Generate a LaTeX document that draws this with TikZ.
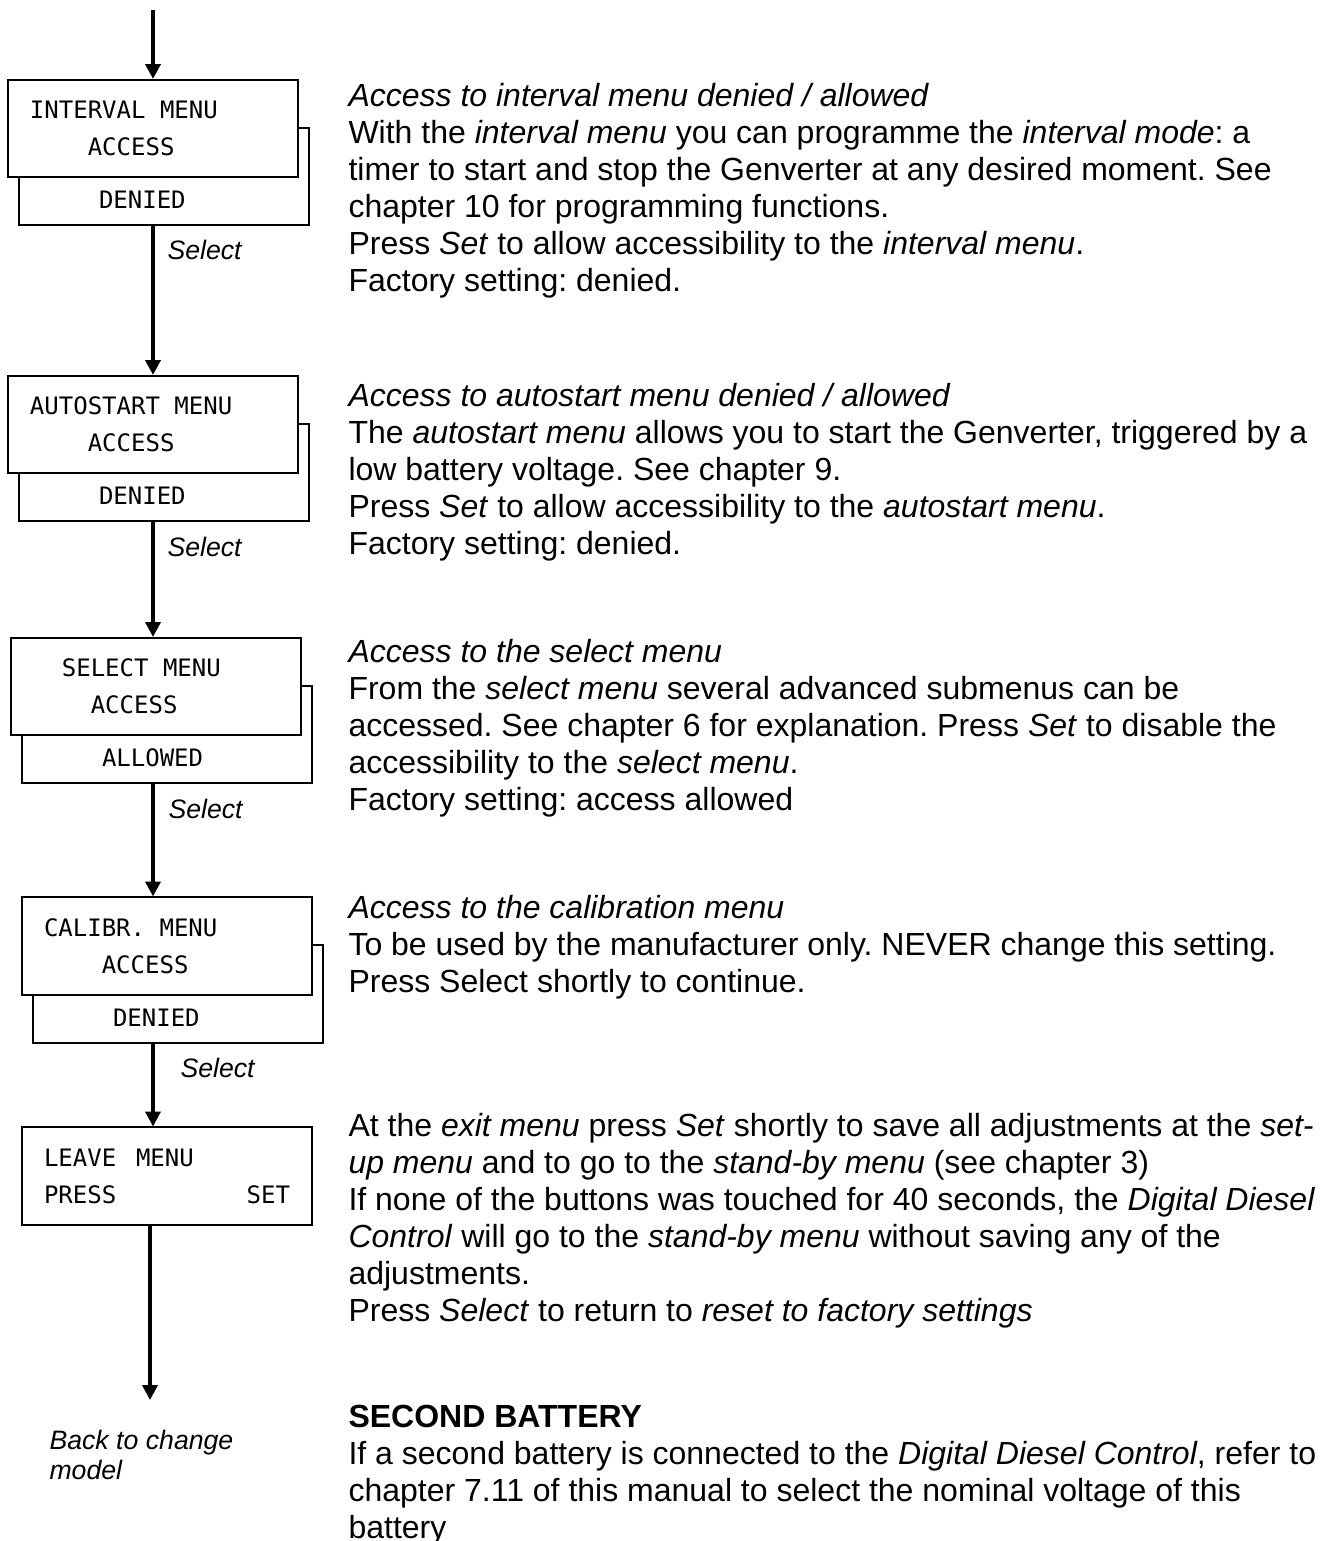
\documentclass[tikz,border=0pt]{standalone}
\usepackage{fontspec}
\setmainfont{Liberation Sans}
\newfontfamily\lcdfont{DejaVu Sans Mono}
\usetikzlibrary{arrows.meta, backgrounds}
\frenchspacing

\begin{document}
\begin{tikzpicture}[x=0.375pt, y=-0.375pt, every node/.style={inner sep=0pt},
		front/.style={draw, fill=white, line width=0.75pt, minimum width=108.75pt, minimum height=36.4pt, inner xsep=8.25pt, text width=92.25pt, align=left, font=\fontsize{9}{13.9}\lcdfont},
		back/.style={draw, line width=0.75pt, minimum width=108.75pt, minimum height=36.4pt},
		status/.style={anchor=west, font=\fontsize{9}{13.9}\lcdfont},
		flow/.style={line width=1.5pt, -{Triangle[width=5.6pt, length=5.6pt]}},
		key/.style={anchor=west, align=left, font=\fontsize{10}{11.25}\selectfont\itshape},
		info/.style={anchor=north west, align=left, font=\fontsize{12}{13.875}\selectfont}]
		\useasboundingbox (0,0) rectangle (1320,1541);
		
		% display boxes
		\node[front] (f1) at (153,128.5) {INTERVAL\phantom{X}MENU\\\phantom{XXXX}ACCESS};
		\node[front] (f2) at (153,424.5) {AUTOSTART\phantom{X}MENU\\\phantom{XXXX}ACCESS};
		\node[front] (f3) at (156,686.5) {\phantom{XX}SELECT\phantom{X}MENU\\\phantom{XXXX}ACCESS};
		\node[front] (f4) at (167,946) {CALIBR.\phantom{X}MENU\\\phantom{XXXX}ACCESS};
		\node[front] (leave) at (167,1176) {LEAVE\phantom{X}\kern2pt MENU\\PRESS\hfill SET};
		
		\begin{scope}[on background layer]
			\node[back] (b1) at ([xshift=4.3pt, yshift=-18pt]f1.center) {};
			\node[back] (b2) at ([xshift=4.3pt, yshift=-18pt]f2.center) {};
			\node[back] (b3) at ([xshift=4.3pt, yshift=-18pt]f3.center) {};
			\node[back] (b4) at ([xshift=4.3pt, yshift=-18pt]f4.center) {};
		\end{scope}
		
		\node[status] (s1) at ([xshift=30pt, yshift=9.75pt]b1.south west) {DENIED};
		\node[status] (s2) at ([xshift=30pt, yshift=9.75pt]b2.south west) {DENIED};
		\node[status] (s3) at ([xshift=30pt, yshift=9.75pt]b3.south west) {ALLOWED};
		\node[status] (s4) at ([xshift=30pt, yshift=9.75pt]b4.south west) {DENIED};
		
		% arrows
		\coordinate (entry) at (153,10);
		\coordinate (exit) at (150,1400);
		\draw[flow] (entry) -- (f1.north -| entry);
		\draw[flow] (b1.south -| entry) -- (f2.north -| entry);
		\draw[flow] (b2.south -| entry) -- (f3.north -| entry);
		\draw[flow] (b3.south -| entry) -- (f4.north -| entry);
		\draw[flow] (b4.south -| entry) -- (leave.north -| entry);
		\draw[flow] (leave.south -| exit) -- (exit);
		
		\node[key] (k1) at (167,250) {Select};
		\node[key] (k2) at (167,547) {Select};
		\node[key] (k3) at (168,809) {Select};
		\node[key] (k4) at (180,1068) {Select};
		\node[key] (ret) at (49,1455) {Back to change\\model};
		
		% explanations
		\node[info] (t1) at (348,83) {\textit{Access to interval menu denied / allowed}\\
			With the \textit{interval menu} you can programme the \textit{interval mode}: a\\
			timer to start and stop the Genverter at any desired moment. See\\
			chapter 10 for programming functions.\\
			Press \textit{Set} to allow accessibility to the \textit{interval menu}.\\
			Factory setting: denied.};
		\node[info] (t2) at (348,383) {\textit{Access to autostart menu denied / allowed}\\
			The \textit{autostart menu} allows you to start the Genverter, triggered by a\\
			low battery voltage. See chapter 9.\\
			Press \textit{Set} to allow accessibility to the \textit{autostart menu}.\\
			Factory setting: denied.};
		\node[info] (t3) at (348,639) {\textit{Access to the select menu}\\
			From the \textit{select menu} several advanced submenus can be\\
			accessed. See chapter 6 for explanation. Press \textit{Set} to disable the\\
			accessibility to the \textit{select menu}.\\
			Factory setting: access allowed};
		\node[info] (t4) at (348,895) {\textit{Access to the calibration menu}\\
			To be used by the manufacturer only. NEVER change this setting.\\
			Press Select shortly to continue.};
		\node[info] (t5) at (348,1113) {At the \textit{exit menu} press \textit{Set} shortly to save all adjustments at the \textit{set-}\\
			\textit{up menu} and to go to the \textit{stand-by menu} (see chapter 3)\\
			If none of the buttons was touched for 40 seconds, the \textit{Digital Diesel}\\
			\textit{Control} will go to the \textit{stand-by menu} without saving any of the\\
			adjustments.\\
			Press \textit{Select} to return to \textit{reset to factory settings}};
		\node[info] (t6) at (348,1405) {\textbf{SECOND BATTERY}\\
			If a second battery is connected to the \textit{Digital Diesel Control}, refer to\\
			chapter 7.11 of this manual to select the nominal voltage of this\\
			battery};
	\end{tikzpicture}
\end{document}
